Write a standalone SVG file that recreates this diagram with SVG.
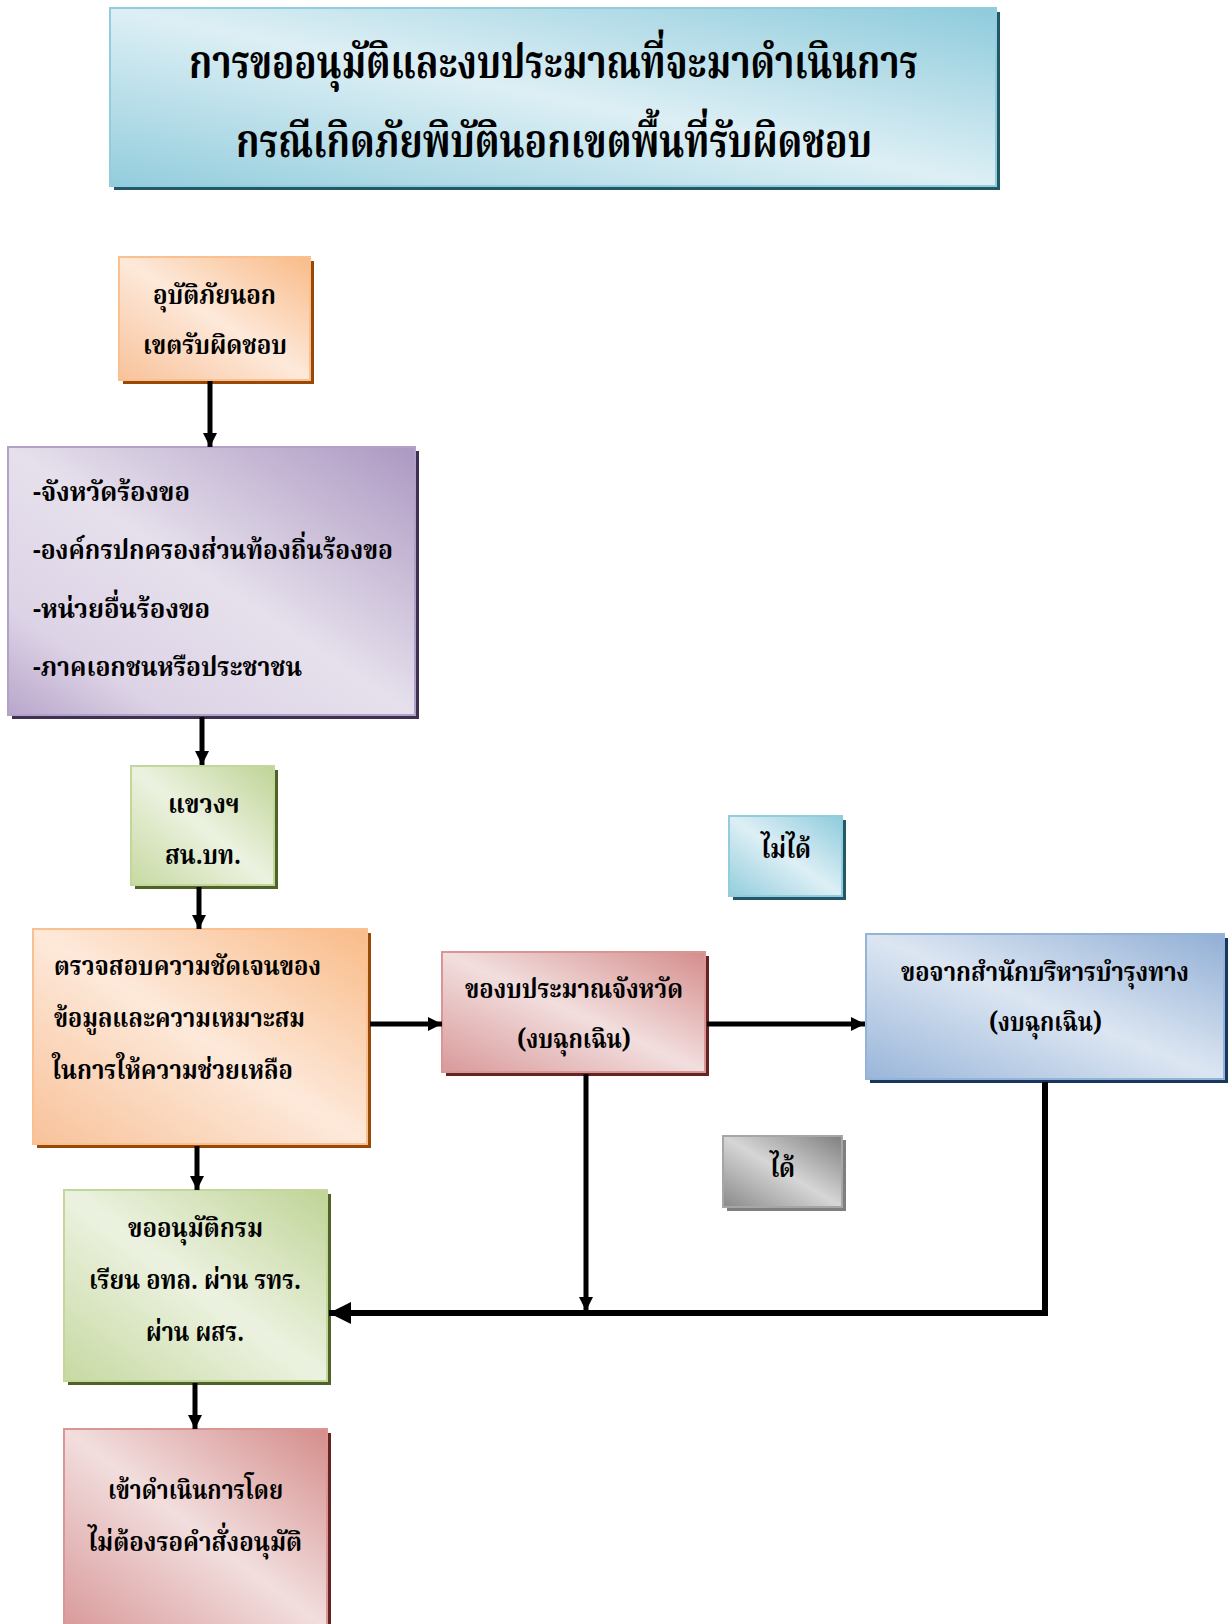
<svg xmlns="http://www.w3.org/2000/svg" width="1228" height="1624" viewBox="0 0 1228 1624">
<style>
.t{font-family:"Noto Serif Thai","Noto Sans Thai","Noto Sans","DejaVu Sans",sans-serif;font-weight:bold;fill:#000}
.tt{font-size:46px}
.tn{font-size:27px}
.c{stroke:#000;stroke-width:5;fill:none}
.cb{stroke:#000;stroke-width:6;fill:none}
</style>
<defs>
<linearGradient id="gAqua" x1="1" y1="0" x2="0" y2="1"><stop offset="0" stop-color="#8ECBDC"/><stop offset="0.5" stop-color="#DDEFF5"/><stop offset="1" stop-color="#93CDDD"/></linearGradient>
<linearGradient id="gOrange" x1="1" y1="0" x2="0" y2="1"><stop offset="0" stop-color="#F9BB88"/><stop offset="0.5" stop-color="#FDE9DA"/><stop offset="1" stop-color="#F8C29A"/></linearGradient>
<linearGradient id="gPurple" x1="1" y1="0" x2="0" y2="1"><stop offset="0" stop-color="#AC98C2"/><stop offset="0.5" stop-color="#E6E0EC"/><stop offset="0.8" stop-color="#DDD3E6"/><stop offset="1" stop-color="#B8A6CB"/></linearGradient>
<linearGradient id="gGreen" x1="1" y1="0" x2="0" y2="1"><stop offset="0" stop-color="#BFD496"/><stop offset="0.5" stop-color="#ECF2E0"/><stop offset="1" stop-color="#C7D9A2"/></linearGradient>
<linearGradient id="gPink" x1="1" y1="0" x2="0" y2="1"><stop offset="0" stop-color="#D48D8B"/><stop offset="0.5" stop-color="#F2DEDE"/><stop offset="1" stop-color="#D9999A"/></linearGradient>
<linearGradient id="gBlue" x1="1" y1="0" x2="0" y2="1"><stop offset="0" stop-color="#91AFD5"/><stop offset="0.5" stop-color="#DCE6F2"/><stop offset="1" stop-color="#9AB6DA"/></linearGradient>
<linearGradient id="gGray" x1="1" y1="0" x2="0" y2="1"><stop offset="0" stop-color="#7F7F7F"/><stop offset="0.5" stop-color="#D6D6D6"/><stop offset="1" stop-color="#8A8A8A"/></linearGradient>
<marker id="ah" viewBox="0 0 10 10" refX="10" refY="5" markerWidth="14" markerHeight="14" markerUnits="userSpaceOnUse" orient="auto"><path d="M0,0 L10,5 L0,10 z" fill="#000"/></marker>
<marker id="ahBig" viewBox="0 0 10 10" refX="10" refY="5" markerWidth="22" markerHeight="22" markerUnits="userSpaceOnUse" orient="auto"><path d="M0,0 L10,5 L0,10 z" fill="#000"/></marker>
</defs>

<g id="title">
<rect x="114" y="12" width="886" height="178" fill="#215968"/>
<rect x="110" y="8" width="886" height="178" fill="url(#gAqua)" stroke="#93CDDD" stroke-width="2"/>
<text class="t tt" x="189" y="78" textLength="729" lengthAdjust="spacingAndGlyphs">การขออนุมัติและงบประมาณที่จะมาดำเนินการ</text>
<text class="t tt" x="236" y="157" textLength="636" lengthAdjust="spacingAndGlyphs">กรณีเกิดภัยพิบัตินอกเขตพื้นที่รับผิดชอบ</text>
</g>

<g id="n1">
<rect x="123" y="261" width="191" height="123" fill="#984807"/>
<rect x="119" y="257" width="191" height="123" fill="url(#gOrange)" stroke="#FAC090" stroke-width="2"/>
<text class="t tn" x="153" y="304" textLength="123" lengthAdjust="spacingAndGlyphs">อุบัติภัยนอก</text>
<text class="t tn" x="143" y="354" textLength="144" lengthAdjust="spacingAndGlyphs">เขตรับผิดชอบ</text>
</g>

<g id="n2">
<rect x="12" y="451" width="407" height="268" fill="#3F3151"/>
<rect x="8" y="447" width="407" height="268" fill="url(#gPurple)" stroke="#B3A2C7" stroke-width="2"/>
<text class="t tn" x="33" y="501" textLength="157" lengthAdjust="spacingAndGlyphs">-จังหวัดร้องขอ</text>
<text class="t tn" x="33" y="559" textLength="360" lengthAdjust="spacingAndGlyphs">-องค์กรปกครองส่วนท้องถิ่นร้องขอ</text>
<text class="t tn" x="33" y="618" textLength="177" lengthAdjust="spacingAndGlyphs">-หน่วยอื่นร้องขอ</text>
<text class="t tn" x="33" y="676" textLength="269" lengthAdjust="spacingAndGlyphs">-ภาคเอกชนหรือประชาชน</text>
</g>

<g id="n3">
<rect x="135" y="770" width="143" height="119" fill="#4F6228"/>
<rect x="131" y="766" width="143" height="119" fill="url(#gGreen)" stroke="#C3D69B" stroke-width="2"/>
<text class="t tn" x="168" y="813" textLength="72" lengthAdjust="spacingAndGlyphs">แขวงฯ</text>
<text class="t tn" x="165" y="864" textLength="76" lengthAdjust="spacingAndGlyphs">สน.บท.</text>
</g>

<g id="n4">
<rect x="37" y="933" width="334" height="215" fill="#984807"/>
<rect x="33" y="929" width="334" height="215" fill="url(#gOrange)" stroke="#FAC090" stroke-width="2"/>
<text class="t tn" x="54" y="975" textLength="267" lengthAdjust="spacingAndGlyphs">ตรวจสอบความชัดเจนของ</text>
<text class="t tn" x="54" y="1027" textLength="251" lengthAdjust="spacingAndGlyphs">ข้อมูลและความเหมาะสม</text>
<text class="t tn" x="52" y="1079" textLength="241" lengthAdjust="spacingAndGlyphs">ในการให้ความช่วยเหลือ</text>
</g>

<g id="n5">
<rect x="446" y="956" width="263" height="120" fill="#632423"/>
<rect x="442" y="952" width="263" height="120" fill="url(#gPink)" stroke="#D99694" stroke-width="2"/>
<text class="t tn" x="465" y="998" textLength="218" lengthAdjust="spacingAndGlyphs">ของบประมาณจังหวัด</text>
<text class="t tn" x="517" y="1048" textLength="114" lengthAdjust="spacingAndGlyphs">(งบฉุกเฉิน)</text>
</g>

<g id="n6">
<rect x="870" y="938" width="358" height="145" fill="#17375E"/>
<rect x="866" y="934" width="358" height="145" fill="url(#gBlue)" stroke="#95B3D7" stroke-width="2"/>
<text class="t tn" x="901" y="981" textLength="288" lengthAdjust="spacingAndGlyphs">ขอจากสำนักบริหารบำรุงทาง</text>
<text class="t tn" x="989" y="1031" textLength="113" lengthAdjust="spacingAndGlyphs">(งบฉุกเฉิน)</text>
</g>

<g id="nNo">
<rect x="733" y="820" width="113" height="80" fill="#215968"/>
<rect x="729" y="816" width="113" height="80" fill="url(#gAqua)" stroke="#93CDDD" stroke-width="2"/>
<text class="t tn" x="761" y="858" textLength="50" lengthAdjust="spacingAndGlyphs">ไม่ได้</text>
</g>

<g id="nYes">
<rect x="727" y="1140" width="119" height="71" fill="#7F7F7F"/>
<rect x="723" y="1136" width="119" height="71" fill="url(#gGray)" stroke="#A6A6A6" stroke-width="2"/>
<text class="t tn" x="770" y="1177" textLength="25" lengthAdjust="spacingAndGlyphs">ได้</text>
</g>

<g id="n7">
<rect x="68" y="1194" width="263" height="191" fill="#4F6228"/>
<rect x="64" y="1190" width="263" height="191" fill="url(#gGreen)" stroke="#C3D69B" stroke-width="2"/>
<text class="t tn" x="128" y="1237" textLength="135" lengthAdjust="spacingAndGlyphs">ขออนุมัติกรม</text>
<text class="t tn" x="89" y="1289" textLength="212" lengthAdjust="spacingAndGlyphs">เรียน อทล. ผ่าน รทร.</text>
<text class="t tn" x="146" y="1341" textLength="98" lengthAdjust="spacingAndGlyphs">ผ่าน ผสร.</text>
</g>

<g id="n8">
<rect x="68" y="1433" width="263" height="200" fill="#632423"/>
<rect x="64" y="1429" width="263" height="200" fill="url(#gPink)" stroke="#D99694" stroke-width="2"/>
<text class="t tn" x="108" y="1499" textLength="175" lengthAdjust="spacingAndGlyphs">เข้าดำเนินการโดย</text>
<text class="t tn" x="88" y="1551" textLength="214" lengthAdjust="spacingAndGlyphs">ไม่ต้องรอคำสั่งอนุมัติ</text>
</g>

<g id="connectors">
<path class="c" d="M210,381 V447" marker-end="url(#ah)"/>
<path class="c" d="M202,717 V765" marker-end="url(#ah)"/>
<path class="c" d="M199,887 V929" marker-end="url(#ah)"/>
<path class="c" d="M370,1024 H442" marker-end="url(#ah)"/>
<path class="c" d="M707,1024 H865" marker-end="url(#ah)"/>
<path class="c" d="M197,1146 V1190" marker-end="url(#ah)"/>
<path class="c" d="M195,1383 V1429" marker-end="url(#ah)"/>
<path class="c" d="M586,1074 V1311" marker-end="url(#ah)"/>
<path class="cb" d="M1045,1082 V1313 H329" marker-end="url(#ahBig)"/>
</g>
</svg>
